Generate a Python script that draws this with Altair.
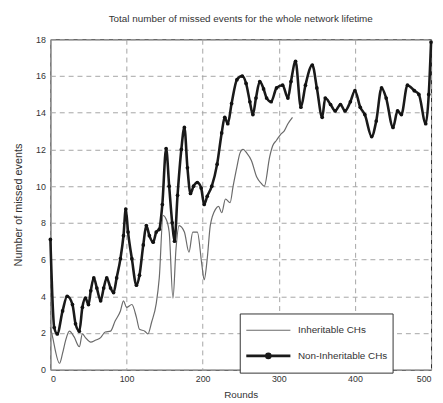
import altair as alt
import pandas as pd

# Non-Inheritable CHs (black line with dot markers)
non_rounds = [0, 5, 9, 16, 22, 29, 33, 38, 42, 46, 50, 53, 57, 61, 66, 70, 74, 79, 83, 87,
              92, 96, 99, 102, 107, 113, 117, 122, 126, 130, 135, 139, 143, 147, 152, 156,
              160, 163, 167, 172, 176, 180, 184, 188, 193, 198, 202, 206, 212, 219, 225,
              229, 233, 238, 245, 252, 257, 262, 266, 270, 275, 280, 284, 290, 297, 305,
              312, 316, 322, 329, 335, 344, 350, 357, 361, 368, 374, 381, 387, 394, 400,
              407, 413, 422, 428, 435, 441, 450, 456, 461, 469, 478, 484, 493, 497, 500]
non_values = [7.1, 2.3, 1.95, 3.2, 4.0, 3.55, 2.5, 2.1, 3.4, 3.9, 3.55, 4.3, 5.0, 4.45, 3.75,
              4.45, 5.0, 4.45, 4.2, 5.0, 6.05, 7.3, 8.75, 7.5, 6.05, 4.6, 5.15, 6.8, 7.85,
              7.3, 6.95, 7.5, 7.65, 9.0, 12.05, 10.0, 8.0, 7.0, 9.5, 12.0, 13.2, 11.0, 9.6,
              10.0, 10.2, 9.9, 9.0, 9.45, 10.0, 11.2, 12.9, 13.75, 13.4, 14.5, 15.8, 16.0,
              15.6, 14.6, 13.9, 14.8, 15.7, 15.3, 14.8, 14.6, 15.35, 15.5, 14.8, 15.7, 16.8,
              14.3, 15.5, 16.6, 15.35, 13.75, 14.8, 14.45, 14.1, 14.45, 14.1, 14.6, 15.2,
              14.3, 13.9, 12.7, 13.55, 15.35, 14.8, 13.2, 14.1, 13.9, 15.5, 15.2, 15.0,
              13.4, 15.0, 17.85]

# Inheritable CHs (thin gray line)
inh_rounds = [0, 2, 12, 16, 20, 25, 31, 38, 42, 46, 53, 59, 66, 72, 79, 85, 92, 96, 100,
              107, 113, 117, 124, 128, 133, 139, 143, 148, 152, 156, 161, 165, 169, 176,
              182, 187, 193, 199, 202, 206, 210, 217, 221, 225, 230, 236, 240, 245, 249,
              253, 258, 264, 271, 277, 281, 288, 292, 297, 303, 307, 312, 318]
inh_values = [2.3, 1.95, 0.35, 0.9, 1.6, 2.1, 1.8, 1.25, 1.95, 1.75, 1.5, 1.6, 1.75, 2.05,
              2.1, 2.65, 3.2, 3.75, 3.4, 3.55, 2.85, 2.2, 2.1, 1.95, 2.6, 3.6, 5.0, 8.4,
              8.2, 7.5, 3.9, 6.6, 7.85, 7.5, 6.4, 7.5, 7.5, 5.7, 4.9, 6.05, 7.85, 8.75, 8.9,
              8.55, 9.3, 9.1, 10.0, 11.05, 11.8, 12.0, 11.8, 11.4, 10.5, 10.15, 10.0, 11.6,
              12.2, 12.5, 12.85, 13.0, 13.4, 13.75]

series_names = ["Inheritable CHs", "Non-Inheritable CHs"]
series_colors = ["#6a6a6a", "#1a1a1a"]
legend_shapes = [
    "M-1,0H1",
    "M-1,0H1M-0.09,0A0.09,0.09,0,1,1,0.09,0A0.09,0.09,0,1,1,-0.09,0Z",
]
x_ticks = [0, 100, 200, 300, 400, 500]
y_ticks = [0, 2, 4, 6, 8, 10, 12, 14, 16, 18]

df = pd.concat([
    pd.DataFrame({"Rounds": inh_rounds, "Missed": inh_values, "Series": series_names[0]}),
    pd.DataFrame({"Rounds": non_rounds, "Missed": non_values, "Series": series_names[1]}),
])
legend_df = pd.DataFrame({"Rounds": [inh_rounds[0], non_rounds[0]],
                          "Missed": [inh_values[0], non_values[0]],
                          "Series": series_names})

FONT = "Liberation Sans"

x = alt.X("Rounds:Q", title="Rounds",
          scale=alt.Scale(domain=[0, 500], nice=False, zero=False),
          axis=alt.Axis(values=x_ticks, ticks=False, labelPadding=5, titlePadding=6,
                        grid=True, gridDash=[5, 4], gridColor="#a5a5a5",
                        domain=False, labelFontSize=9, titleFontSize=10,
                        labelFont=FONT, titleFont=FONT, titleFontWeight="normal",
                        labelColor="#333", titleColor="#333"))
y = alt.Y("Missed:Q", title="Number of missed events",
          scale=alt.Scale(domain=[0, 18], nice=False),
          axis=alt.Axis(values=y_ticks, ticks=False, labelPadding=5, titlePadding=12,
                        grid=True, gridDash=[5, 4], gridColor="#a5a5a5",
                        domain=False, labelFontSize=9, titleFontSize=11,
                        labelFont=FONT, titleFont=FONT, titleFontWeight="normal",
                        labelColor="#333", titleColor="#333"))

legend = alt.Legend(title=None, orient="none", legendX=192, legendY=278,
                    symbolSize=2000, symbolStrokeWidth=2, symbolOpacity=1,
                    clipHeight=24, labelFontSize=10, labelFont=FONT,
                    labelColor="#333", fillColor="white",
                    strokeColor="#333", padding=5, labelOffset=6,
                    direction="vertical")

color = alt.Color("Series:N",
                  scale=alt.Scale(domain=series_names, range=series_colors),
                  legend=legend)
shape = alt.Shape("Series:N",
                  scale=alt.Scale(domain=series_names, range=legend_shapes),
                  legend=legend)

lines = alt.Chart(df).mark_line(interpolate="monotone").encode(
    x=x, y=y, color=color,
    strokeWidth=alt.StrokeWidth("Series:N",
                                scale=alt.Scale(domain=series_names, range=[1.2, 2.6]),
                                legend=None),
)

pts = alt.Chart(df[df["Series"] == series_names[1]]).mark_point(
    filled=True, size=14, color="#111", opacity=1
).encode(x=x, y=y)

legend_layer = alt.Chart(legend_df).mark_point(filled=False, opacity=0).encode(
    x=x, y=y, color=color, shape=shape
)

chart = alt.layer(lines, pts, legend_layer).properties(
    width=386, height=335,
    title=alt.TitleParams("Total number of missed events for the whole network lifetime",
                          fontSize=10, fontWeight="normal", font=FONT, color="#333",
                          offset=12),
    autosize=alt.AutoSizeParams(type="none"),
    padding={"left": 43, "top": 29, "right": 4, "bottom": 30},
).configure_view(stroke="#222", strokeWidth=1)

chart.save("out.html", embed_options={"renderer": "svg", "actions": False})
